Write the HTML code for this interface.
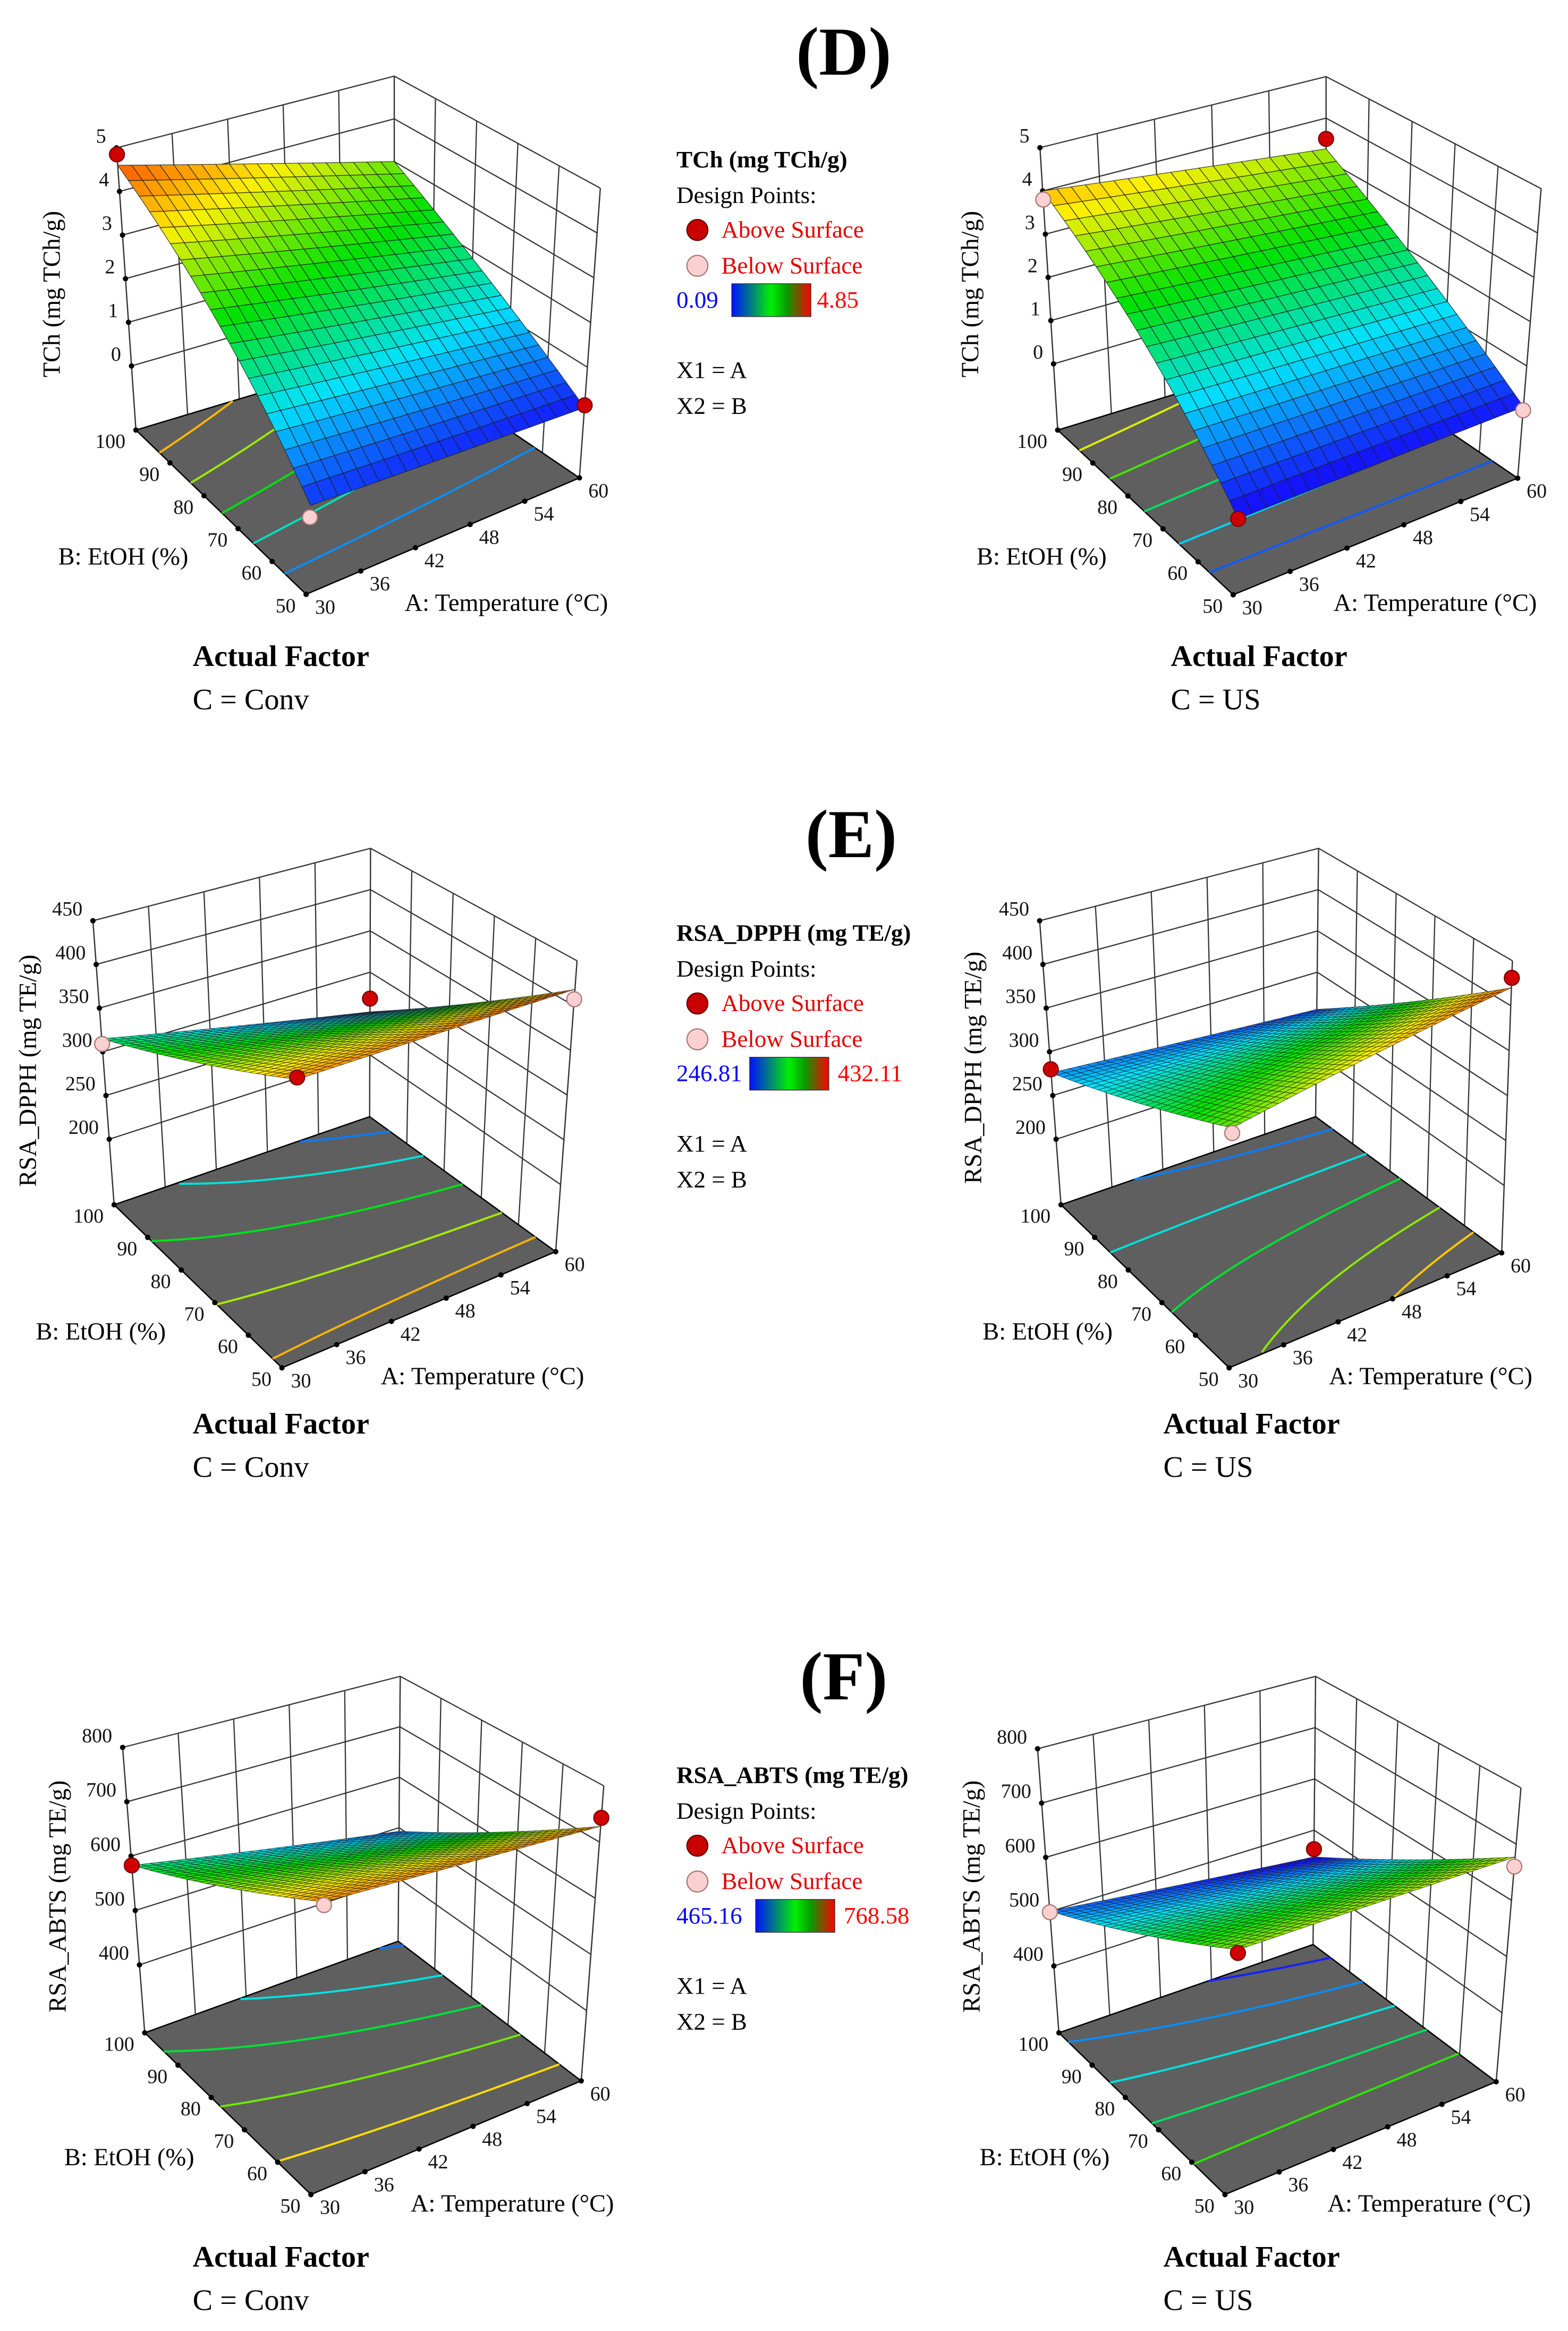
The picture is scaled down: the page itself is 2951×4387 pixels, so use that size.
<!DOCTYPE html>
<html><head><meta charset="utf-8"><style>
html,body{margin:0;padding:0;background:#fff;}
svg{display:block;font-family:"Liberation Serif",serif;}
</style></head><body>
<svg id="fig" xmlns="http://www.w3.org/2000/svg" width="2951" height="4387" viewBox="0 0 1050 1561">
<defs>
<linearGradient id="lg" x1="0" x2="1" y1="0" y2="0">
<stop offset="0" stop-color="#0010ff"/><stop offset="0.5" stop-color="#00f000"/><stop offset="0.7" stop-color="#0a9a00"/><stop offset="1" stop-color="#ff0000"/>
</linearGradient>
</defs>
<text x="565" y="50" font-size="46" font-weight="bold" text-anchor="middle">(D)</text>
<text x="570" y="574" font-size="46" font-weight="bold" text-anchor="middle">(E)</text>
<text x="565" y="1138" font-size="46" font-weight="bold" text-anchor="middle">(F)</text>
<g id="plots"></g>
<g id="legends"></g>
</svg>
<script>
// ---- data: surface corner values [A30B50, A60B50, A30B100, A60B100]
const dLeftCorners = [0.25, 0.1, 4.6, 3.0];
const dRightCorners = [-0.05, 0.08, 4.0, 3.26];
const eLeftCorners = [405, 418, 315, 252];
const eRightCorners = [358, 420, 276, 255];
const fLeftCorners = [730, 728, 583, 493];
const fRightCorners = [660, 677, 501, 448];
// contour levels
const dLeftLevels = [4.0, 3.2, 2.4, 1.6, 0.8];
const dRightLevels = [3.5, 2.8, 2.0, 1.2, 0.5];
const eLeftLevels = [270, 300, 335, 370, 400];
const eRightLevels = [270, 300, 330, 365, 395];
const fLeftLevels = [500, 550, 600, 650, 700];
const fRightLevels = [470, 510, 550, 590, 630];
// design points [A, B, value, above(1)/below(0)]
const dLeftPoints = [[30,100,4.85,1],[60,50,0.15,1],[30,50,0.02,0]];
const dRightPoints = [[30,100,3.8,0],[60,100,3.5,1],[30,50,-0.05,1],[60,50,0.0,0]];
const eLeftPoints = [[30,100,309,0],[30,50,407,1],[60,100,268,1],[60,50,407,0]];
const eRightPoints = [[30,100,280,1],[30,50,353,0],[60,50,431,1]];
const fLeftPoints = [[30,100,583,1],[30,50,725,0],[60,50,743,1]];
const fRightPoints = [[30,100,499,0],[30,50,655,1],[60,100,463,1],[60,50,660,0]];
// ticks
const aTicks = [30,36,42,48,54,60];
const bTicks = [50,60,70,80,90,100];
const dZTicks = [0,1,2,3,4,5];
const eZTicks = [200,250,300,350,400,450];
const fZTicks = [400,500,600,700,800];
// colour ranges
const dRange = [0.09, 4.85];
const eRange = [246.81, 432.11];
const fRange = [465.16, 768.58];

// ---- layout (pixel geometry, not data)
const layouts = [
 {id:'d-left', corners:dLeftCorners, levels:dLeftLevels, pts:dLeftPoints, zt:dZTicks, range:dRange, zf:-1.47, ztop:5, n:20,
  fL:[91,288], fF:[205,398], fR:[388,320], fB:[264,236], tL:[78,99], tR:[402,126], tB:[264,51],
  ztitle:'TCh (mg TCh/g)', ztx:40, zty:197, btx:39, bty:378, atx:271, aty:409, cond:'C = Conv', afx:129, afy:446},
 {id:'d-right', corners:dRightCorners, levels:dRightLevels, pts:dRightPoints, zt:dZTicks, range:dRange, zf:-1.53, ztop:5, n:20,
  fL:[708.3,288], fF:[825.8,398.3], fR:[1016.3,320.2], fB:[888,232.9], tL:[696.4,98.9], tR:[1032,126.3], tB:[888,51.3],
  ztitle:'TCh (mg TCh/g)', ztx:655, zty:197, btx:654, bty:378, atx:893, aty:409, cond:'C = US', afx:784, afy:446},
 {id:'e-left', corners:eLeftCorners, levels:eLeftLevels, pts:eLeftPoints, zt:eZTicks, range:eRange, zf:125, ztop:450, n:30,
  fL:[76.4,806.8], fF:[188.8,916], fR:[372.1,838.2], fB:[247.5,747.8], tL:[62.2,616.6], tR:[386.4,643.4], tB:[248.1,568.1],
  ztitle:'RSA_DPPH (mg TE/g)', ztx:24, zty:717, btx:24, bty:897, atx:255, aty:927, cond:'C = Conv', afx:129, afy:960},
 {id:'e-right', corners:eRightCorners, levels:eRightLevels, pts:eRightPoints, zt:eZTicks, range:eRange, zf:125, ztop:450, n:30,
  fL:[710.5,806.8], fF:[823.1,916], fR:[1005.6,839], fB:[881,747.8], tL:[696.2,616.6], tR:[1012.8,643.4], tB:[883,568.1],
  ztitle:'RSA_DPPH (mg TE/g)', ztx:657, zty:715, btx:658, bty:897, atx:890, aty:927, cond:'C = US', afx:779, afy:960},
 {id:'f-left', corners:fLeftCorners, levels:fLeftLevels, pts:fLeftPoints, zt:fZTicks, range:fRange, zf:275, ztop:800, n:30,
  fL:[96.9,1361.3], fF:[208.2,1469.6], fR:[389.2,1393.5], fB:[266.6,1300], tL:[82.1,1170.2], tR:[404.3,1195.9], tB:[268,1122.6],
  ztitle:'RSA_ABTS (mg TE/g)', ztx:44, zty:1270, btx:43, bty:1450, atx:275, aty:1481, cond:'C = Conv', afx:129, afy:1518},
 {id:'f-right', corners:fRightCorners, levels:fRightLevels, pts:fRightPoints, zt:fZTicks, range:fRange, zf:277, ztop:800, n:30,
  fL:[709.1,1361.3], fF:[820.3,1469.6], fR:[1001.9,1394.1], fB:[879.3,1302.2], tL:[694.8,1171.1], tR:[1018.5,1197.3], tB:[881,1122.6],
  ztitle:'RSA_ABTS (mg TE/g)', ztx:656, zty:1270, btx:656, bty:1450, atx:889, aty:1481, cond:'C = US', afx:779, afy:1518}
];
const NS='http://www.w3.org/2000/svg';
function mk(tag, attrs, parent){const e=document.createElementNS(NS,tag);for(const k in attrs)e.setAttribute(k,attrs[k]);if(parent)parent.appendChild(e);return e;}
function cmap(v, r){
  let t=(v-r[0])/(r[1]-r[0]); t=Math.max(0,Math.min(1,t));
  const st=[[0,[20,20,255]],[0.25,[0,225,255]],[0.5,[0,225,0]],[0.75,[255,240,0]],[1,[255,40,0]]];
  for(let i=1;i<st.length;i++){ if(t<=st[i][0]){const a=st[i-1],b=st[i];const u=(t-a[0])/(b[0]-a[0]);
    const c=a[1].map((x,j)=>Math.round(x+(b[1][j]-x)*u));return 'rgb('+c.join(',')+')';}}
  return 'rgb(255,40,0)';
}
function lerp(p,q,t){return [p[0]+(q[0]-p[0])*t, p[1]+(q[1]-p[1])*t];}
function bil(F,R,L,B,a,b){return lerp(lerp(F,R,a), lerp(L,B,a), b);}
const root=document.getElementById('plots');
layouts.forEach(P=>{
  const tF=[P.tL[0]+P.tR[0]-P.tB[0], P.tL[1]+P.tR[1]-P.tB[1]];
  const ax=A=>(A-30)/30, bx=B=>(B-50)/50;
  function proj(a,b,z){const f=bil(P.fF,P.fR,P.fL,P.fB,a,b), t=bil(tF,P.tR,P.tL,P.tB,a,b);
    return lerp(f,t,(z-P.zf)/(P.ztop-P.zf));}
  const c=P.corners;
  function val(a,b){return c[0]*(1-a)*(1-b)+c[1]*a*(1-b)+c[2]*(1-a)*b+c[3]*a*b;}
  const g=mk('g',{},root);
  
  
  const pt=p=>p[0].toFixed(2)+','+p[1].toFixed(2);
  const walls=mk('g',{stroke:'#333','stroke-width':'0.8',fill:'none'},g);
  
  
  aTicks.forEach(A=>{const a=ax(A);mk('line',{x1:proj(a,1,P.zf)[0],y1:proj(a,1,P.zf)[1],x2:proj(a,1,P.ztop)[0],y2:proj(a,1,P.ztop)[1]},walls);});
  bTicks.forEach(B=>{const b=bx(B);mk('line',{x1:proj(1,b,P.zf)[0],y1:proj(1,b,P.zf)[1],x2:proj(1,b,P.ztop)[0],y2:proj(1,b,P.ztop)[1]},walls);});
  P.zt.forEach(z=>{mk('polyline',{points:[proj(0,1,z),proj(1,1,z),proj(1,0,z)].map(pt).join(' ')},walls);});
  mk('line',{x1:P.fL[0],y1:P.fL[1],x2:P.tL[0],y2:P.tL[1]},walls);
  mk('line',{x1:P.fR[0],y1:P.fR[1],x2:P.tR[0],y2:P.tR[1]},walls);
  const fl=mk('polygon',{points:[P.fL,P.fF,P.fR,P.fB].map(pt).join(' '),fill:'#5f5f5f',stroke:'#000','stroke-width':'0.9'},g);
  
  
  P.levels.forEach(lv=>{
    let segs=[],cur=[];
    for(let i=0;i<=80;i++){const a=i/80;const p0=c[0]*(1-a)+c[1]*a;const q=(c[2]-c[0])*(1-a)+(c[3]-c[1])*a;
      const b=q!==0?(lv-p0)/q:-1;
      if(b>=0&&b<=1){cur.push(proj(a,b,P.zf));}else{if(cur.length>1)segs.push(cur);cur=[];}}
    if(cur.length>1)segs.push(cur);
    segs.forEach(s=>{const l=mk('polyline',{points:s.map(pt).join(' '),fill:'none',stroke:cmap(lv,P.range),'stroke-width':'1.4'},g);
      
      });
  });
  const tk=mk('g',{'font-size':'13.5',fill:'#111'},g);
  
  
  bTicks.forEach(B=>{const p=proj(0,bx(B),P.zf);mk('circle',{cx:p[0],cy:p[1],r:1.8,fill:'#000'},tk);
    const t=mk('text',{x:p[0]-7,y:p[1]+12,'text-anchor':'end'},tk);t.textContent=B;});
  aTicks.forEach(A=>{const p=proj(ax(A),0,P.zf);mk('circle',{cx:p[0],cy:p[1],r:1.8,fill:'#000'},tk);
    const t=mk('text',{x:p[0]+6,y:p[1]+13},tk);t.textContent=A;});
  P.zt.forEach(z=>{const p=proj(0,1,z);mk('circle',{cx:p[0],cy:p[1],r:1.8,fill:'#000'},tk);
    const t=mk('text',{x:p[0]-7,y:p[1]-3.5,'text-anchor':'end'},tk);t.textContent=z;});
  const sg=mk('g',{stroke:'#1e1e1e','stroke-width':P.n>20?'0.3':'0.45','stroke-opacity':'0.85'},g);
  
  
  const N=P.n, cells=[];
  for(let i=0;i<N;i++)for(let j=0;j<N;j++)cells.push([i,j]);
  cells.sort((u,v)=>(v[0]+v[1])-(u[0]+u[1]));
  cells.forEach(([i,j])=>{const a0=i/N,a1=(i+1)/N,b0=j/N,b1=(j+1)/N;
    const q=[[a0,b0],[a1,b0],[a1,b1],[a0,b1]].map(([a,b])=>proj(a,b,val(a,b)));
    mk('polygon',{points:q.map(pt).join(' '),fill:cmap(val((a0+a1)/2,(b0+b1)/2),P.range)},sg);});
  P.pts.forEach(d=>{const p=proj(ax(d[0]),bx(d[1]),d[2]);
    const ci=mk('circle',{cx:p[0],cy:p[1],r:5,fill:d[3]?'#d00000':'#fbd0d0',stroke:d[3]?'#700':'#a77','stroke-width':'0.8'},g);
    
    });
  const zt=mk('text',{x:P.ztx,y:P.zty,'font-size':'16.5','text-anchor':'middle',transform:'rotate(-90 '+P.ztx+' '+P.zty+')'},g);
  zt.textContent=P.ztitle;
  
  
  const bt=mk('text',{x:P.btx,y:P.bty,'font-size':'16.5'},g);bt.textContent='B: EtOH (%)';
  
  
  const at=mk('text',{x:P.atx,y:P.aty,'font-size':'16.5'},g);at.textContent='A: Temperature (°C)';
  
  
  const af=mk('text',{x:P.afx,y:P.afy,'font-size':'20','font-weight':'bold'},g);af.textContent='Actual Factor';
  
  
  const cf=mk('text',{x:P.afx,y:P.afy+29,'font-size':'20'},g);cf.textContent=P.cond;
  
  
});
const legendTitles = ['TCh (mg TCh/g)','RSA_DPPH (mg TE/g)','RSA_ABTS (mg TE/g)'];
const legendMins = ['0.09','246.81','465.16'];
const legendMaxs = ['4.85','432.11','768.58'];
const legY=[112,630,1194], legBarX=[490,502,506], legMaxX=[547,561,565];
const lgRoot=document.getElementById('legends');
legendTitles.forEach((tt,k)=>{
  const y=legY[k];
  const g=mk('g',{'font-size':'16'},lgRoot);
  
  
  mk('text',{x:453,y:y,'font-weight':'bold'},g).textContent=tt;
  mk('text',{x:453,y:y+24},g).textContent='Design Points:';
  mk('circle',{cx:467,cy:y+42,r:7,fill:'#c80000',stroke:'#600','stroke-width':'0.8'},g);
  mk('text',{x:483,y:y+47,fill:'#e00000'},g).textContent='Above Surface';
  mk('circle',{cx:467,cy:y+66,r:7,fill:'#fbd0d0',stroke:'#a77','stroke-width':'0.8'},g);
  mk('text',{x:483,y:y+71,fill:'#e00000'},g).textContent='Below Surface';
  mk('text',{x:453,y:y+94,fill:'#0000ff'},g).textContent=legendMins[k];
  mk('rect',{x:legBarX[k],y:y+78,width:53,height:22,fill:'url(#lg)',stroke:'#333','stroke-width':'0.5'},g);
  mk('text',{x:legMaxX[k],y:y+94,fill:'#ff0000'},g).textContent=legendMaxs[k];
  mk('text',{x:453,y:y+141},g).textContent='X1 = A';
  mk('text',{x:453,y:y+165},g).textContent='X2 = B';
});
</script>
</body></html>
